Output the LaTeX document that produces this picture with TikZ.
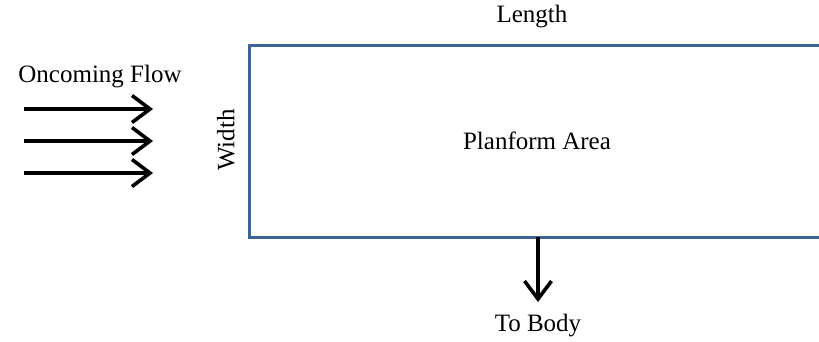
\documentclass[tikz,border=0pt]{standalone}
\usepackage{fontspec}
\setmainfont{Liberation Serif}
\usetikzlibrary{arrows.meta}
\definecolor{edgeblue}{HTML}{3F6494}
\tikzset{
  lbl/.style={font=\fontsize{25}{30}\selectfont, text=black, inner sep=0pt},
  flowarrow/.style={line width=3.6pt, -{Straight Barb[length=18pt,width=27pt,line width=3.6pt]}},
}
\begin{document}
\begin{tikzpicture}[x=1pt,y=-1pt]
\useasboundingbox (0,0) rectangle (819,341);
\node[draw=edgeblue, line width=3pt, minimum width=578pt, minimum height=192pt,
      anchor=north west, inner sep=0pt, outer sep=0pt] (area) at (249,45) {};
\node[lbl] (planform) at (537,141) {Planform Area};
\node[lbl] (length) at (532,17) {Length};
\node[lbl] (flow) at (100,77) {Oncoming Flow};
\node[lbl, rotate=90] (width) at (226,140) {Width};
\node[lbl] (tobody) at (538,326) {To Body};
\coordinate (a1s) at (24,109); \coordinate (a1e) at (153,109);
\coordinate (a2s) at (24,141); \coordinate (a2e) at (153,141);
\coordinate (a3s) at (24,173); \coordinate (a3e) at (153,173);
\coordinate (dtop) at (538,237); \coordinate (dbot) at (538,302);
\draw[flowarrow] (a1s) -- (a1e);
\draw[flowarrow] (a2s) -- (a2e);
\draw[flowarrow] (a3s) -- (a3e);
\draw[flowarrow] (dtop) -- (dbot);
\end{tikzpicture}
\end{document}
